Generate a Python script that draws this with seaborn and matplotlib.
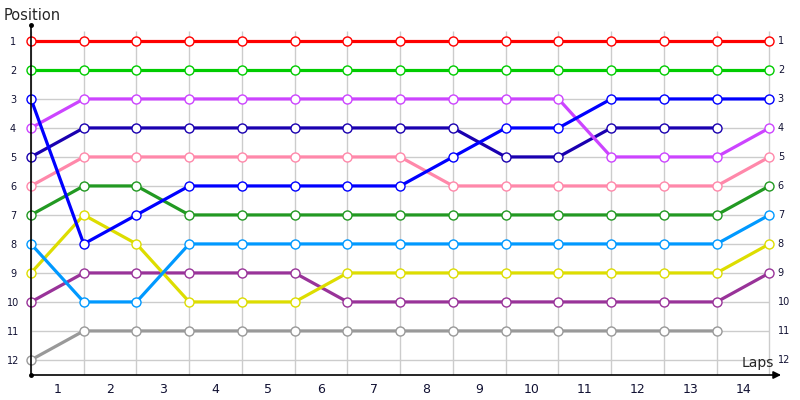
import numpy as np
import pandas as pd
import matplotlib
matplotlib.use("Agg")
import matplotlib.pyplot as plt
import seaborn as sns

# lap index 0..14 (points sit on the grid lines, lap labels sit between them)
laps = list(range(15))
lap_labels = [str(i) for i in range(1, 15)]
positions = list(range(1, 13))

red        = [1, 1, 1, 1, 1, 1, 1, 1, 1, 1, 1, 1, 1, 1, 1]
green      = [2, 2, 2, 2, 2, 2, 2, 2, 2, 2, 2, 2, 2, 2, 2]
magenta    = [4, 3, 3, 3, 3, 3, 3, 3, 3, 3, 3, 5, 5, 5, 4]
blue       = [3, 8, 7, 6, 6, 6, 6, 6, 5, 4, 4, 3, 3, 3, 3]
dark_blue  = [5, 4, 4, 4, 4, 4, 4, 4, 4, 5, 5, 4, 4, 4, np.nan]
pink       = [6, 5, 5, 5, 5, 5, 5, 5, 6, 6, 6, 6, 6, 6, 5]
dark_green = [7, 6, 6, 7, 7, 7, 7, 7, 7, 7, 7, 7, 7, 7, 6]
light_blue = [8, 10, 10, 8, 8, 8, 8, 8, 8, 8, 8, 8, 8, 8, 7]
yellow     = [9, 7, 8, 10, 10, 10, 9, 9, 9, 9, 9, 9, 9, 9, 8]
purple     = [10, 9, 9, 9, 9, 9, 10, 10, 10, 10, 10, 10, 10, 10, 9]
gray       = [12, 11, 11, 11, 11, 11, 11, 11, 11, 11, 11, 11, 11, 11, np.nan]

series = [
    (gray, "#999999"),
    (purple, "#993399"),
    (yellow, "#dddd00"),
    (light_blue, "#0099ff"),
    (dark_green, "#229922"),
    (pink, "#ff88aa"),
    (dark_blue, "#1a00b0"),
    (magenta, "#cc44ff"),
    (blue, "#0000ff"),
    (green, "#00cc00"),
    (red, "#ff0000"),
]

sns.set_style("white")
plt.rcParams['font.family'] = ['DejaVu Sans']

fig = plt.figure(figsize=(8, 4), dpi=100)
ax = fig.add_axes([31 / 800, 1 - 375 / 400, (780 - 31) / 800, 350 / 400])
ax.set_xlim(0, 14.2)
ax.set_ylim(12.52, 0.45)

# grid
ax.hlines(positions, 0, 14, color="#cccccc", lw=1, zorder=0)
ax.vlines(laps, 0.66, 12.52, color="#cccccc", lw=1, zorder=0)

for vals, col in series:
    df = pd.DataFrame({"lap": laps, "pos": vals}).dropna()
    sns.lineplot(data=df, x="lap", y="pos", ax=ax, color=col, lw=2.3,
                 marker="o", markersize=6.5, markerfacecolor="white",
                 markeredgecolor=col, markeredgewidth=1, clip_on=False)

# right-hand position labels
for p in positions:
    ax.annotate(str(p), xy=(14, p), xytext=(6, 0), textcoords="offset points",
                ha="left", va="center", fontsize=7, color="#111133",
                annotation_clip=False)

ax.set_yticks(positions, [str(p) for p in positions])
ax.set_xticks([i + 0.5 for i in range(14)], lap_labels)
ax.tick_params(axis="y", length=0, pad=13, labelsize=7, labelcolor="#111133")
ax.tick_params(axis="x", length=0, pad=6, labelsize=9, labelcolor="#111133")
for lbl in ax.get_yticklabels():
    lbl.set_horizontalalignment("center")
ax.set_xlabel("")
ax.set_ylabel("")

for s in ["top", "right", "bottom"]:
    ax.spines[s].set_visible(False)
ax.spines["left"].set_color("black")
ax.spines["left"].set_linewidth(1.2)

ax.annotate("", xy=(14.22, 12.52), xytext=(0, 12.52),
            arrowprops=dict(arrowstyle="-|>", color="black", lw=1.2,
                            mutation_scale=11, shrinkA=0, shrinkB=0),
            annotation_clip=False)
ax.plot([0, 0], [0.45, 12.52], "o", color="black", ms=2.5, clip_on=False)

fig.text(4 / 800, 1 - 15 / 400, "Position", fontsize=10.5, ha="left", va="center")
fig.text(774 / 800, 1 - 363 / 400, "Laps", fontsize=10, ha="right", va="center")

fig.savefig("out.png", dpi=100)
